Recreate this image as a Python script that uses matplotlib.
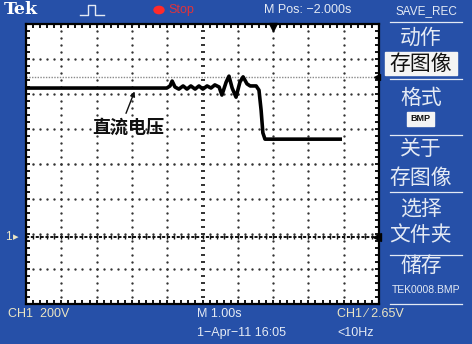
import matplotlib
matplotlib.use("Agg")
import matplotlib.pyplot as plt
import numpy as np
from matplotlib.lines import Line2D
from matplotlib.patches import Rectangle, Circle

plt.rcParams['font.family'] = ['Noto Sans CJK SC', 'DejaVu Sans']

# trace in screen divisions (10 x 8 grid, centre = 0,0)
trace_x = [0.00, 3.99, 4.08, 4.14, 4.22, 4.33, 4.45, 4.56, 4.67, 4.79, 4.90, 5.01,
           5.13, 5.24, 5.35, 5.47, 5.55, 5.67, 5.75, 5.84, 5.95, 6.06, 6.15, 6.26,
           6.35, 6.52, 6.60, 6.66, 6.71, 6.77, 8.90]
trace_y = [2.17, 2.17, 2.23, 2.37, 2.20, 2.14, 2.23, 2.14, 2.23, 2.14, 2.23, 2.14,
           2.23, 2.17, 2.26, 2.20, 1.97, 2.34, 2.51, 2.17, 1.91, 2.34, 2.49, 2.29,
           2.23, 2.23, 2.11, 1.54, 0.89, 0.71, 0.71]

ground_level = -2.09
trigger_level = 2.49
trigger_pos = 7.0

menu_items = ["动作", "存图像", "格式", "BMP", "关于", "存图像", "选择", "文件夹", "储存", "TEK0008.BMP"]
menu_y = [38, 64, 98, 119, 149, 178, 209, 235, 266, 290]

W, H = 472, 344
BLUE = '#2650a8'
PALE = '#e4eaf4'
CHCOL = '#ece6c4'


def fx(x):
	return x/W


def fy(y):
	return 1-y/H


def fig_line(fig, x0, x1, y, color=PALE, lw=0.9):
	fig.add_artist(Line2D([fx(x0), fx(x1)], [fy(y), fy(y)], transform=fig.transFigure,
	                      color=color, lw=lw))


def main():
	fig=plt.figure(figsize=(W/100, H/100), dpi=100)
	fig.patch.set_facecolor(BLUE)

	ax=fig.add_axes([fx(26), fy(304), 353/W, 280/H])
	ax.set_facecolor('white')
	ax.set_xlim(0, 10)
	ax.set_ylim(-4, 4)

	# graticule
	ax.set_xticks(np.arange(0, 11, 1))
	ax.set_yticks(np.arange(-4, 5, 1))
	ax.set_xticks(np.arange(0, 10.01, 0.2), minor=True)
	ax.set_yticks(np.arange(-4, 4.01, 0.2), minor=True)
	ax.tick_params(which='both', direction='in', length=3, width=1.3, color='black',
	               top=True, right=True, labelbottom=False, labelleft=False)
	for s in ax.spines.values():
		s.set_linewidth(1.6)

	dots_y=np.arange(-4, 4.01, 0.2)
	dots_x=np.arange(0, 10.01, 0.2)
	for xv in range(1, 10):
		if xv==5:
			ax.plot([xv]*len(dots_y), dots_y, ls='none', marker='_', ms=3.2, mew=1.3, color='#222')
		else:
			ax.plot([xv]*len(dots_y), dots_y, ls='none', marker='o', ms=1.7, mew=0, color='#333')
	for yv in range(-3, 4):
		ax.plot(dots_x, [yv]*len(dots_x), ls='none', marker='o', ms=1.8 if yv==0 else 1.7,
		        mew=0, color='#333')

	# trigger level and ground reference
	ax.axhline(trigger_level, color='#8a8a8a', lw=1, ls=(0, (1, 1)))
	ax.axhline(ground_level, color='#111', lw=1.4, ls=(0, (1.6, 0.9)))
	ax.plot(dots_x, [ground_level]*len(dots_x), ls='none', marker='|', ms=3, mew=1,
	        color='#111')

	ax.plot(trace_x, trace_y, color='black', lw=2.6, solid_joinstyle='round', zorder=5)

	ax.plot([trigger_pos], [3.92], marker='v', ms=6, color='black', clip_on=False, zorder=6)
	ax.plot([9.93], [ground_level], marker='<', ms=6, color='black', clip_on=False, zorder=6)
	ax.plot([9.93], [trigger_level], marker='<', ms=4, color='black', clip_on=False, zorder=6)

	ax.annotate("直流电压", xy=(3.09, 2.11), xytext=(2.89, 1.06), textcoords='data',
	            ha='center', va='center', fontsize=13, fontweight='bold', color='#111',
	            arrowprops=dict(arrowstyle='-|>', color='#111', lw=1, mutation_scale=7,
	                            shrinkA=1, shrinkB=1, relpos=(0.45, 1.0)))

	# top bar
	fig.text(fx(4), fy(10), "Tek", family='DejaVu Serif', fontweight='bold', fontsize=12.5,
	         color='white', ha='left', va='center')
	fig.add_artist(Line2D([fx(80), fx(88), fx(88), fx(95), fx(95), fx(104)],
	                      [fy(15), fy(15), fy(5), fy(5), fy(15), fy(15)],
	                      transform=fig.transFigure, color=PALE, lw=1))
	fig.add_artist(Circle((fx(159), fy(10)), 5/W, transform=fig.transFigure, color='#ff2a2a'))
	fig.text(fx(168), fy(10), "Stop", family='Liberation Sans', fontsize=9, color='#e0333a',
	         ha='left', va='center')
	fig.text(fx(264), fy(10), "M Pos: \u22122.000s", family='Liberation Sans', fontsize=9,
	         color=PALE, ha='left', va='center')
	fig.text(fx(426), fy(11), "SAVE_REC", family='Liberation Sans', fontsize=8.5,
	         color=PALE, ha='center', va='center')

	# side menu
	for y in [22, 79, 135, 192, 255, 304]:
		fig_line(fig, 390, 462, y)
	fig.add_artist(Rectangle((fx(385), fy(75)), 72/W, 23/H, transform=fig.transFigure,
	                         color='#f4f4f4'))
	fig.add_artist(Rectangle((fx(407), fy(126)), 27/W, 14/H, transform=fig.transFigure,
	                         color='#f4f4f4'))
	for i, (t, y) in enumerate(zip(menu_items, menu_y)):
		if t=="BMP":
			fig.text(fx(420.5), fy(y), t, family='Liberation Sans', fontsize=6.5,
			         fontweight='bold', color='#111', ha='center', va='center')
		elif t.startswith("TEK"):
			fig.text(fx(426), fy(y), t, family='Liberation Sans', fontsize=7.5,
			         color=PALE, ha='center', va='center')
		else:
			col='#111' if i==1 else PALE
			fig.text(fx(421), fy(y), t, fontsize=15, color=col, ha='center', va='center')

	# left marker for channel 1
	fig.text(fx(8), fy(237), "1", family='Liberation Sans', fontsize=8.5, color=CHCOL,
	         ha='center', va='center')
	fig.text(fx(16), fy(237), "\u25b8", family='DejaVu Sans', fontsize=8, color=CHCOL,
	         ha='center', va='center')

	# bottom status
	fig.text(fx(8), fy(314), "CH1  200V", family='Liberation Sans', fontsize=9, color=CHCOL,
	         ha='left', va='center')
	fig.text(fx(197), fy(314), "M 1.00s", family='Liberation Sans', fontsize=9, color=PALE,
	         ha='left', va='center')
	fig.text(fx(197), fy(333), "1\u2212Apr\u221211 16:05", family='Liberation Sans', fontsize=9,
	         color=PALE, ha='left', va='center')
	fig.text(fx(337), fy(314), "CH1 \u2215 2.65V", family='Liberation Sans', fontsize=9,
	         color=CHCOL, ha='left', va='center')
	fig.text(fx(337), fy(333), "<10Hz", family='Liberation Sans', fontsize=9, color=PALE,
	         ha='left', va='center')

	plt.savefig("out.png", dpi=100, facecolor=fig.get_facecolor())
	plt.close(fig)


if __name__=="__main__":
	main()
